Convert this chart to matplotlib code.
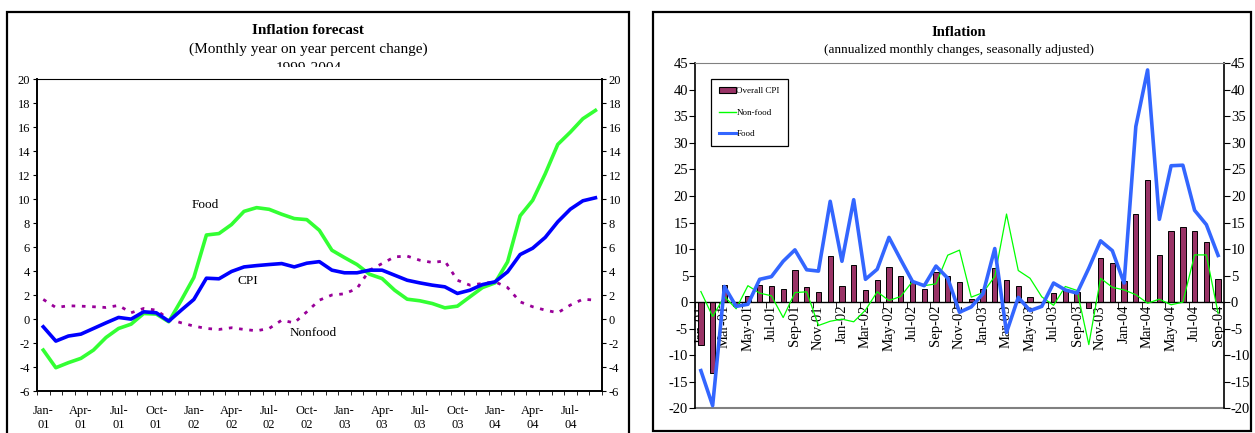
import numpy as np
import pandas as pd
import matplotlib
matplotlib.use("Agg")
import matplotlib.pyplot as plt
from matplotlib.patches import Rectangle, Patch
from matplotlib.lines import Line2D

plt.rcParams['font.family'] = ['Liberation Serif', 'DejaVu Serif']
plt.rcParams['axes.unicode_minus'] = False

# months Jan-01 .. Sep-04
months = pd.date_range('2001-01-01', periods=45, freq='MS')

# left panel: year on year percent change
cpi_yoy = [-0.65, -1.84, -1.42, -1.26, -0.79, -0.32, 0.13, -0.01, 0.6, 0.52,
           -0.18, 0.74, 1.63, 3.4, 3.35, 3.96, 4.34, 4.45, 4.54, 4.62,
           4.34, 4.65, 4.78, 4.07, 3.85, 3.85, 4.07, 4.07, 3.65, 3.23,
           3.01, 2.82, 2.68, 2.13, 2.40, 2.87, 3.1, 3.93, 5.37, 5.9,
           6.8, 8.1, 9.15, 9.85, 10.1]
food_yoy = [-2.59, -4.06, -3.64, -3.28, -2.59, -1.54, -0.79, -0.43, 0.46, 0.41,
            -0.23, 1.57, 3.46, 7.0, 7.12, 7.87, 8.97, 9.28, 9.14, 8.73,
            8.37, 8.28, 7.39, 5.73, 5.12, 4.54, 3.73, 3.37, 2.4, 1.65,
            1.52, 1.29, 0.93, 1.07, 1.85, 2.62, 3.01, 4.76, 8.6, 9.89,
            12.1, 14.55, 15.57, 16.69, 17.38]
nonfood_yoy = [1.63, 0.96, 1.1, 1.07, 1.02, 0.96, 1.13, 0.52, 0.88, 0.74,
               -0.01, -0.32, -0.59, -0.79, -0.87, -0.73, -0.87, -0.98, -0.79, -0.1,
               -0.32, 0.6, 1.57, 2.0, 2.1, 2.54, 4.07, 4.62, 5.18, 5.24,
               4.9, 4.71, 4.84, 3.23, 2.82, 2.96, 3.1, 2.62, 1.43, 1.02,
               0.74, 0.52, 1.16, 1.65, 1.57]

# right panel: annualized monthly changes
cpi_mom = [-8.0, -13.4, 3.2, -0.8, 1.2, 3.2, 3.1, 2.45, 6.0, 2.9,
           1.95, 8.7, 2.95, 7.0, 2.25, 4.2, 6.6, 4.96, 3.95, 2.5,
           5.65, 4.96, 3.77, 0.5, 2.45, 6.47, 4.14, 3.0, 0.94, 0.0,
           1.7, 2.3, 1.9, -1.1, 8.3, 7.3, 3.9, 16.6, 23.0, 8.9,
           13.4, 14.2, 13.4, 11.4, 4.3]
nonfood_mom = [2.0, -2.7, 1.07, -1.25, 3.1, 1.7, 1.2, -2.9, 1.8, 1.95,
               -4.4, -3.6, -3.2, -3.7, -1.5, 1.95, 0.3, 1.07, 3.9, 3.1,
               3.45, 8.85, 9.8, 0.94, 1.8, 4.83, 16.6, 5.96, 4.5, 1.0,
               -0.6, 2.95, 2.2, -8.0, 4.5, 2.8, 2.3, 1.4, -0.2, 0.56,
               -0.5, 0.0, 8.9, 8.9, -2.1]
food_mom = [-12.9, -19.5, 2.95, -0.8, -0.4, 4.3, 4.8, 7.7, 9.85, 6.1,
            5.85, 19.0, 7.7, 19.3, 4.3, 6.2, 12.2, 8.0, 3.9, 3.1,
            6.8, 4.5, -1.9, -0.9, 1.6, 10.1, -5.7, 0.9, -1.6, -0.8,
            3.6, 2.3, 1.7, 6.4, 11.55, 9.7, 3.6, 33.1, 43.75, 15.6,
            25.7, 25.8, 17.3, 14.6, 8.8]

W, H = 1255, 433
x = np.arange(len(months))

fig = plt.figure(figsize=(W / 100, H / 100), dpi=100)

# panel borders
fig.add_artist(Rectangle((7 / W, -0.1), 622 / W, (H - 12) / H + 0.1, transform=fig.transFigure,
                         fill=False, edgecolor='black', lw=1.6))
fig.add_artist(Rectangle((653 / W, 1 - 431 / H), 598 / W, 419 / H, transform=fig.transFigure,
                         fill=False, edgecolor='black', lw=1.6))

# ---------- left chart ----------
ax1 = fig.add_axes([37 / W, 1 - 391 / H, 564.7 / W, 312 / H])
ax1.plot(x, nonfood_yoy, color='#990099', lw=2.0, ls=(0, (1.3, 2.4)))
ax1.plot(x, food_yoy, color='#33ff33', lw=2.6)
ax1.plot(x, cpi_yoy, color='#0000ff', lw=2.6)
ax1.set_xlim(-0.5, 44.5)
ax1.set_ylim(-6, 20)
ax1.set_yticks(range(-6, 21, 2))
ax1.tick_params(axis='y', left=True, right=True, labelleft=True, labelright=True,
                direction='out', length=3, labelsize=9, pad=2)
ax1.set_xticks(x[::3])
ax1.set_xticklabels(months[::3].strftime('%b-\n%y'), fontsize=9, linespacing=1.25)
ax1.set_xticks(np.arange(-0.5, 45, 1), minor=True)
ax1.tick_params(axis='x', which='major', length=0, pad=10)
ax1.tick_params(axis='x', which='minor', length=3, direction='out')
for s in ['left', 'right', 'bottom']:
    ax1.spines[s].set_linewidth(1.4)
ax1.spines['top'].set_linewidth(0.8)
ax1.text(12.9, 9.5, 'Food', ha='center', va='center', fontsize=9.5)
ax1.text(16.3, 3.2, 'CPI', ha='center', va='center', fontsize=9.5)
ax1.text(21.5, -1.15, 'Nonfood', ha='center', va='center', fontsize=9.5)

fig.text(308.5 / W, 1 - 30 / H, 'Inflation forecast', ha='center', va='center',
         fontsize=11, weight='bold')
fig.text(308.5 / W, 1 - 49 / H, '(Monthly year on year percent change)', ha='center',
         va='center', fontsize=11)
fig.text(309 / W, 1 - 68 / H, '1999-2004', ha='center', va='center', fontsize=11, zorder=1)
fig.add_artist(Rectangle((150 / W, 1 - 78 / H), 320 / W, 11 / H, transform=fig.transFigure,
                         facecolor='white', edgecolor='none', zorder=2))

# ---------- right chart ----------
ax2 = fig.add_axes([695 / W, 1 - 408.3 / H, 529 / W, 345 / H])
ax2.bar(x, cpi_mom, width=0.45, color='#993366', edgecolor='black', lw=0.7, zorder=2)
ax2.plot(x, nonfood_mom, color='#00ff00', lw=0.9, zorder=3)
ax2.plot(x, food_mom, color='#3366ff', lw=2.6, zorder=4)
ax2.set_xlim(-0.5, 44.5)
ax2.set_ylim(-20, 45)
ax2.set_yticks(range(-20, 46, 5))
ax2.tick_params(axis='y', left=True, right=True, labelleft=True, labelright=True,
                labelsize=10.5, pad=2, direction='out', length=4)
ax2.tick_params(axis='y', labelright=True, pad=1)
ax2.spines['bottom'].set_position(('data', 0))
ax2.spines['bottom'].set_linewidth(1.0)
ax2.spines['top'].set_color('#808080')
ax2.spines['left'].set_linewidth(1.2)
ax2.spines['right'].set_linewidth(1.2)
ax2.axhline(-20, color='#808080', lw=1.5, clip_on=False, zorder=1)
ax2.set_xticks(x[::2])
ax2.set_xticklabels(months[::2].strftime('%b-%y'), rotation=90, fontsize=10.5)
ax2.set_xticks(np.arange(-0.5, 45, 2), minor=True)
ax2.tick_params(axis='x', which='major', length=0, pad=2)
ax2.tick_params(axis='x', which='minor', length=4, direction='out')

handles = [Patch(facecolor='#993366', edgecolor='black', lw=0.8),
           Line2D([], [], color='#00ff00', lw=1),
           Line2D([], [], color='#3366ff', lw=2.2)]
leg = ax2.legend(handles, ['Overall CPI', 'Non-food', 'Food'], loc='upper left',
                 bbox_to_anchor=(0.022, 0.968), fontsize=6.5, fancybox=False,
                 edgecolor='black', framealpha=1, labelspacing=1.45, handlelength=1.8,
                 handleheight=0.7, handletextpad=0.1, borderpad=0.9)
leg.get_frame().set_linewidth(0.9)

fig.text(959 / W, 1 - 32 / H, 'Inflation', ha='center', va='center', fontsize=10.5,
         weight='bold')
fig.text(959 / W, 1 - 50 / H, '(annualized monthly changes, seasonally adjusted)',
         ha='center', va='center', fontsize=9.5)

fig.savefig('out.png', dpi=100)
